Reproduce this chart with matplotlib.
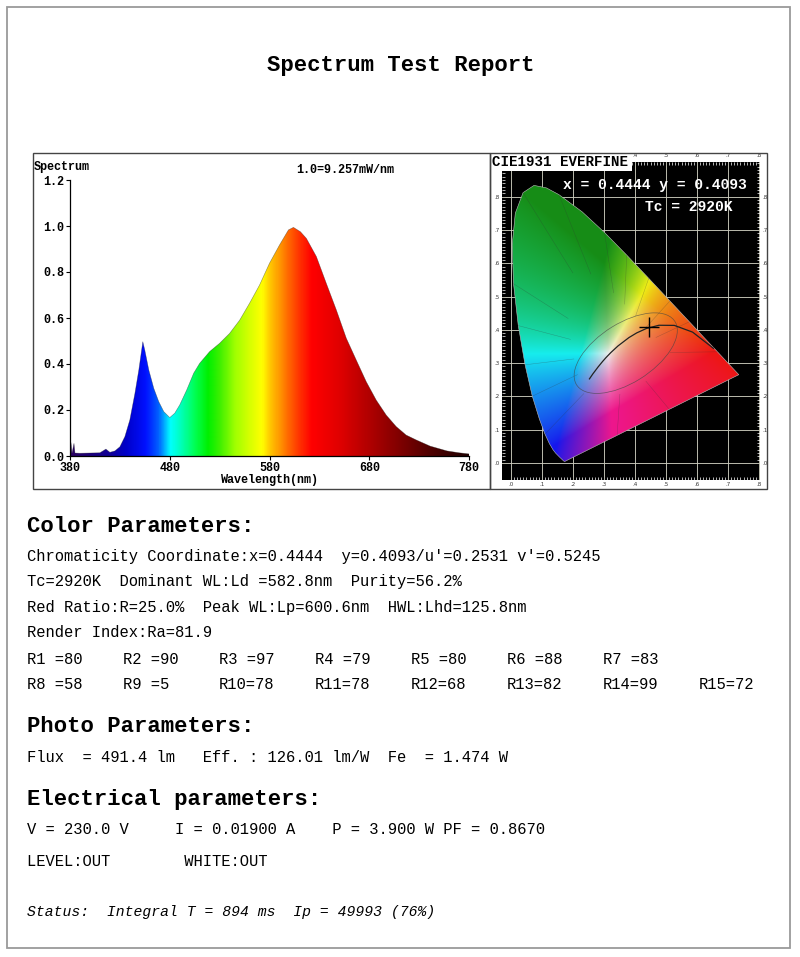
import numpy as np
import matplotlib
matplotlib.use("Agg")
import matplotlib.pyplot as plt
from matplotlib.colors import LinearSegmentedColormap, Normalize
from matplotlib.patches import Rectangle, Polygon, Ellipse
from matplotlib.transforms import blended_transform_factory

W, H = 800, 957
MONO = ['Liberation Mono', 'DejaVu Sans Mono']

# relative spectrum, 1.0 = 9.257 mW/nm
wl = [380, 381, 382, 384, 385, 390, 400, 410, 416, 420, 425, 430, 435, 440, 445,
      449, 453, 455, 459, 464, 469, 474, 480, 485, 490, 497, 504, 510, 520, 530,
      540, 550, 560, 570, 580, 590, 599, 604, 611, 617, 627, 637, 647, 657, 667,
      677, 687, 697, 707, 717, 727, 741, 758, 770, 780]
rel = [0.012, 0.058, 0.012, 0.055, 0.013, 0.012, 0.013, 0.014, 0.03, 0.016, 0.022,
       0.04, 0.084, 0.157, 0.27, 0.374, 0.497, 0.46, 0.374, 0.294, 0.236, 0.193,
       0.167, 0.186, 0.222, 0.287, 0.36, 0.403, 0.454, 0.49, 0.533, 0.59, 0.664,
       0.743, 0.838, 0.917, 0.983, 0.994, 0.975, 0.946, 0.867, 0.75, 0.635, 0.512,
       0.417, 0.323, 0.243, 0.178, 0.128, 0.091, 0.07, 0.043, 0.022, 0.014, 0.009]

# colour of the spectrum fill (wavelength, colour)
wl_colors = [(380, '#2a0060'), (420, '#10009a'), (435, '#0000c8'), (455, '#0010ff'),
             (468, '#0060ff'), (480, '#00ffff'), (492, '#00ffb0'), (505, '#00ff50'),
             (518, '#00f000'), (530, '#40f000'), (545, '#a0ff00'), (560, '#d8ff00'),
             (572, '#ffff00'), (580, '#ffc800'), (590, '#ff9600'), (600, '#ff6000'),
             (612, '#ff2800'), (622, '#ff0000'), (650, '#e00000'), (680, '#b00000'),
             (710, '#800000'), (740, '#500000'), (780, '#200000')]

# CIE 1931 spectral locus
cie_wl = [380, 400, 420, 430, 440, 450, 460, 465, 470, 475, 480, 485, 490, 495, 500,
          505, 510, 515, 520, 525, 530, 540, 550, 560, 570, 580, 590, 600, 610, 620,
          640, 660, 700]
cie_x = [0.1741, 0.1733, 0.1714, 0.1689, 0.1644, 0.1566, 0.1440, 0.1355, 0.1241,
         0.1096, 0.0913, 0.0687, 0.0454, 0.0235, 0.0082, 0.0039, 0.0139, 0.0389,
         0.0743, 0.1142, 0.1547, 0.2296, 0.3016, 0.3731, 0.4441, 0.5125, 0.5752,
         0.6270, 0.6658, 0.6915, 0.7190, 0.7300, 0.7347]
cie_y = [0.0050, 0.0048, 0.0051, 0.0069, 0.0109, 0.0177, 0.0297, 0.0399, 0.0578,
         0.0868, 0.1327, 0.2007, 0.2950, 0.4127, 0.5384, 0.6548, 0.7502, 0.8120,
         0.8338, 0.8262, 0.8059, 0.7543, 0.6923, 0.6245, 0.5547, 0.4866, 0.4242,
         0.3725, 0.3340, 0.3083, 0.2809, 0.2700, 0.2653]

# Planckian locus
pl_x = [0.6528, 0.5857, 0.5267, 0.4770, 0.4369, 0.4053, 0.3805, 0.3451, 0.3221,
        0.3064, 0.2952, 0.2807, 0.2637, 0.2530]
pl_y = [0.3444, 0.3931, 0.4133, 0.4137, 0.4041, 0.3907, 0.3768, 0.3516, 0.3318,
        0.3166, 0.3048, 0.2883, 0.2673, 0.2527]

cx, cy = 0.4444, 0.4093
tc = 2920

color_lines = [
    "Chromaticity Coordinate:x=0.4444  y=0.4093/u'=0.2531 v'=0.5245",
    "Tc=2920K  Dominant WL:Ld =582.8nm  Purity=56.2%",
    "Red Ratio:R=25.0%  Peak WL:Lp=600.6nm  HWL:Lhd=125.8nm",
    "Render Index:Ra=81.9",
]
r_names = ['R1 ', 'R2 ', 'R3 ', 'R4 ', 'R5 ', 'R6 ', 'R7 ', 'R8 ', 'R9 ', 'R10',
           'R11', 'R12', 'R13', 'R14', 'R15']
r_vals = [80, 90, 97, 79, 80, 88, 83, 58, 5, 78, 78, 68, 82, 99, 72]


def fx(px):
    return px / W


def fy(py):
    return 1 - py / H


def box(x0, y0, x1, y1, **kw):
    fig.add_artist(Rectangle((fx(x0), fy(y1)), (x1 - x0) / W, (y1 - y0) / H,
                             transform=fig.transFigure, **kw))


fig = plt.figure(figsize=(W / 100, H / 100), dpi=100)
box(7, 7, 790, 948, fill=False, edgecolor='#9a9a9a', lw=1.3)

fig.text(fx(401), fy(66), "Spectrum Test Report", family=MONO, weight='bold',
         fontsize=16, ha='center', va='center')

# ---- spectrum panel
box(33, 153, 490, 489, fill=False, edgecolor='#444444', lw=1.0, zorder=5)
ax = fig.add_axes([fx(70), fy(456), 399 / W, 276 / H])
ax.set_xlim(380, 780)
ax.set_ylim(0, 1.2)
cmap = LinearSegmentedColormap.from_list(
    'spec', [((w - 380) / 400, c) for w, c in wl_colors])
grad = np.linspace(380, 780, 800)[None, :]
im = ax.imshow(grad, cmap=cmap, norm=Normalize(380, 780), extent=[380, 780, 0, 1.2],
               aspect='auto', origin='lower', interpolation='bilinear')
pts = np.column_stack([[wl[0]] + wl + [wl[-1]], [0] + rel + [0]])
poly = Polygon(pts, closed=True, facecolor='none', edgecolor='none')
ax.add_patch(poly)
im.set_clip_path(poly)
ax.plot(wl, rel, color='#222222', lw=0.4, alpha=0.5)
for s in ['top', 'right']:
    ax.spines[s].set_visible(False)
ax.spines['left'].set_linewidth(0.9)
ax.spines['bottom'].set_linewidth(0.9)
ax.set_xticks([380, 480, 580, 680, 780])
ax.set_yticks([0.0, 0.2, 0.4, 0.6, 0.8, 1.0, 1.2])
ax.set_yticklabels(['%.1f' % v for v in ax.get_yticks()])
ax.tick_params(length=3, width=0.8, pad=1, labelsize=8.5)
for lab in ax.get_xticklabels() + ax.get_yticklabels():
    lab.set_family(MONO)
    lab.set_weight('bold')
ax.set_xlabel("Wavelength(nm)", family=MONO, weight='bold', fontsize=8.5, labelpad=0)
fig.text(fx(34), fy(167), "Spectrum", family=MONO, weight='bold', fontsize=8.5,
         ha='left', va='center')
fig.text(fx(296), fy(170), "1.0=9.257mW/nm", family=MONO, weight='bold',
         fontsize=8.5, ha='left', va='center')

# ---- CIE panel
box(490, 153, 767, 489, fill=False, edgecolor='#444444', lw=1.0, zorder=5)
cax = fig.add_axes([fx(502), fy(480), (760 - 502) / W, (480 - 162) / H])
cax.set_facecolor('black')
x0, x1, y0, y1 = -0.029, 0.803, -0.051, 0.904
cax.set_xlim(x0, x1)
cax.set_ylim(y0, y1)
xs = np.linspace(x0, x1, 420)
ys = np.linspace(y0, y1, 480)
X, Y = np.meshgrid(xs, ys)
Yc = np.clip(Y, 2e-3, None)
XYZ = np.stack([X / Yc, np.ones_like(X), (1 - X - Y) / Yc], axis=-1)
M = np.array([[3.2406, -1.5372, -0.4986], [-0.9689, 1.8758, 0.0415],
              [0.0557, -0.2040, 1.0570]])
rgb = np.clip(XYZ @ M.T, 0, None)
rgb /= rgb.max(axis=2, keepdims=True) + 1e-9
rgb = rgb ** 1.7
rgb = rgb ** (1 / 2.2)
# printed-chart look: darker greens, pinker purples
gex = np.clip(rgb[..., 1] - np.maximum(rgb[..., 0], rgb[..., 2]), 0, 1)
rgb *= (1 - 0.45 * gex)[..., None]
rgb[..., 2] *= 1 - 0.45 * rgb[..., 0] * rgb[..., 2] * (1 - rgb[..., 1])
rgb = 0.84 * rgb + 0.09
cim = cax.imshow(np.clip(rgb, 0, 1), extent=[x0, x1, y0, y1], origin='lower',
                 aspect='auto', interpolation='bilinear', zorder=1)
locus = Polygon(np.column_stack([cie_x, cie_y]), closed=True, facecolor='none',
                edgecolor='#bbbbbb', lw=0.4, zorder=2)
cax.add_patch(locus)
cim.set_clip_path(locus)

# region lines
wx, wy = 0.36, 0.33
for i in [9, 11, 12, 13, 14, 17, 20, 22, 23, 24, 25, 26, 28]:
    px, py = cie_x[i], cie_y[i]
    cax.plot([wx + 0.5 * (px - wx), px], [wy + 0.5 * (py - wy), py],
             color='#333333', lw=0.35, alpha=0.35, zorder=3)
for t in [0.3, 0.6]:
    px = cie_x[0] + t * (cie_x[-1] - cie_x[0])
    py = cie_y[0] + t * (cie_y[-1] - cie_y[0])
    cax.plot([wx + 0.5 * (px - wx), px], [wy + 0.5 * (py - wy), py],
             color='#333333', lw=0.35, alpha=0.35, zorder=3)
cax.add_patch(Ellipse((0.37, 0.33), 0.37, 0.18, angle=30, facecolor='none',
                      edgecolor='#444444', lw=0.5, alpha=0.7, zorder=3))
cax.plot(pl_x, pl_y, color='#222222', lw=0.9, zorder=4)
cax.plot([cx], [cy], marker='+', color='black', markersize=15, mew=1.0, zorder=6)

ticks = np.round(np.arange(0, 0.81, 0.1), 1)
tick_labels = ['.%d' % round(t * 10) for t in ticks]
cax.set_xticks(ticks)
cax.set_yticks(ticks)
cax.set_xticklabels(tick_labels)
cax.set_yticklabels(tick_labels)
cax.set_xticks(np.arange(0, 0.805, 0.01), minor=True)
cax.set_yticks(np.arange(0, 0.905, 0.01), minor=True)
cax.tick_params(which='both', direction='in', colors='white', labelcolor='#333333',
                labelsize=4, pad=1.5, top=True, right=True, labelright=True)
cax.tick_params(which='major', length=0)
cax.tick_params(which='minor', length=2, width=0.5)
top_tr = blended_transform_factory(cax.transData, cax.transAxes)
for t, lab in zip(ticks[4:], tick_labels[4:]):
    cax.text(t, 1.012, lab, transform=top_tr, fontsize=4, color='#333333',
             ha='center', va='bottom', clip_on=False)
cax.grid(True, which='major', color='#cfcfc0', lw=0.7, alpha=0.9)
cax.set_axisbelow(True)
for s in cax.spines.values():
    s.set_visible(False)

box(490, 153, 632, 171, facecolor='white', edgecolor='none', zorder=4)
fig.text(fx(492), fy(162), "CIE1931 EVERFINE", family=MONO, weight='bold',
         fontsize=10.2, ha='left', va='center', zorder=6)
fig.text(fx(563), fy(185), "x = %.4f y = %.4f" % (cx, cy), family=MONO,
         weight='bold', fontsize=10.5, color='white', ha='left', va='center')
fig.text(fx(645), fy(207), "Tc = %dK" % tc, family=MONO, weight='bold',
         fontsize=10.5, color='white', ha='left', va='center')

# ---- parameter texts
fig.text(fx(27), fy(527), "Color Parameters:", family=MONO, weight='bold',
         fontsize=16, ha='left', va='center')
for i, line in enumerate(color_lines):
    fig.text(fx(27), fy(556 + i * 25.6), line, family=MONO, fontsize=11.2,
             ha='left', va='center')
for k, (name, v) in enumerate(zip(r_names, r_vals)):
    row, col = (0, k) if k < 7 else (1, k - 7)
    fig.text(fx(27 + col * 96), fy(659 + row * 25.5), "%s=%d" % (name, v),
             family=MONO, fontsize=11.2, ha='left', va='center')

fig.text(fx(27), fy(727), "Photo Parameters:", family=MONO, weight='bold',
         fontsize=16, ha='left', va='center')
fig.text(fx(27), fy(757), "Flux  = 491.4 lm   Eff. : 126.01 lm/W  Fe  = 1.474 W",
         family=MONO, fontsize=11.2, ha='left', va='center')
fig.text(fx(27), fy(800), "Electrical parameters:", family=MONO, weight='bold',
         fontsize=16, ha='left', va='center')
fig.text(fx(27), fy(829), "V = 230.0 V     I = 0.01900 A    P = 3.900 W PF = 0.8670",
         family=MONO, fontsize=11.2, ha='left', va='center')
fig.text(fx(27), fy(862), "LEVEL:OUT        WHITE:OUT", family=MONO, fontsize=11.2,
         ha='left', va='center')
fig.text(fx(27), fy(912), "Status:  Integral T = 894 ms  Ip = 49993 (76%)",
         family=MONO, style='italic', fontsize=10.6, ha='left', va='center')

fig.savefig("out.png", dpi=100)
